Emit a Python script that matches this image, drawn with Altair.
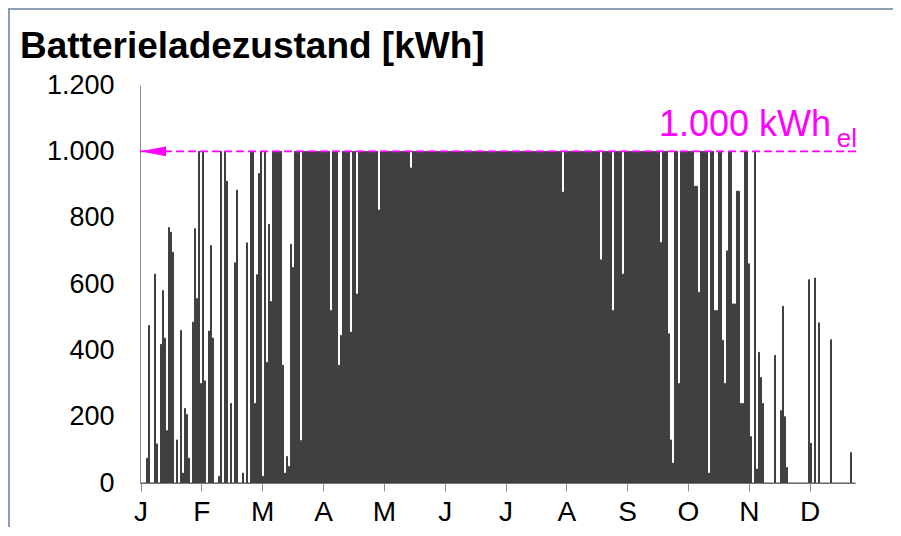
import altair as alt
import pandas as pd

FONT = "Liberation Sans"
FRAME = "#8c9fb2"
MAGENTA = "#ff00ff"
DARK = "#404040"

title_text = "Batterieladezustand [kWh]"
months = ["J", "F", "M", "A", "M", "J", "J", "A", "S", "O", "N", "D"]
y_ticks = [0, 200, 400, 600, 800, 1000, 1200]
capacity = 1000
cap_label = "1.000 kWh"
cap_sub = "el"

# daily peak state of charge [kWh] (one value per day)
jan = [0, 0, 0, 75, 475, 0, 0, 630, 118, 0, 418, 580, 437, 158, 770, 756, 696, 0, 130, 0,
       460, 30, 225, 207, 75, 0, 485, 767, 556, 1000, 300]
feb = [1000, 308, 0, 458, 716, 437, 0, 0, 20, 1000, 0, 1000, 910, 0, 240, 0, 664, 883, 0, 0,
       30, 0, 724, 0, 1000, 1000, 240, 628]
mar = [933, 1000, 20, 1000, 364, 780, 547, 1000, 1000, 1000, 1000, 1000, 355, 30, 80, 50,
       720, 650, 1000, 1000, 1000, 128, 1000, 1000, 1000, 1000, 1000, 1000, 1000, 1000, 1000]
apr = [1000, 1000, 1000, 1000, 1000, 520, 1000, 1000, 1000, 355, 445, 1000, 1000, 1000, 1000,
       455, 1000, 1000, 570, 1000, 1000, 1000, 1000, 1000, 1000, 1000, 1000, 1000, 1000, 823]
may = [1000, 1000, 1000, 1000, 1000, 1000, 1000, 1000, 1000, 1000, 1000, 1000, 1000, 1000, 1000,
       950, 1000, 1000, 1000, 1000, 1000, 1000, 1000, 1000, 1000, 1000, 1000, 1000, 1000, 1000, 1000]
jun = [1000, 1000, 1000, 1000, 1000, 1000, 1000, 1000, 1000, 1000, 1000, 1000, 1000, 1000, 1000,
       1000, 1000, 1000, 1000, 1000, 1000, 1000, 1000, 1000, 1000, 1000, 1000, 1000, 1000, 1000]
jul = [1000, 1000, 1000, 1000, 1000, 1000, 1000, 1000, 1000, 1000, 1000, 1000, 1000, 1000, 1000,
       1000, 1000, 1000, 1000, 1000, 1000, 1000, 1000, 1000, 1000, 1000, 1000, 1000, 1000, 1000, 877]
aug = [1000, 1000, 1000, 1000, 1000, 1000, 1000, 1000, 1000, 1000, 1000, 1000, 1000, 1000, 1000,
       1000, 1000, 1000, 673, 1000, 1000, 1000, 1000, 1000, 520, 1000, 1000, 1000, 1000, 630, 1000]
sep = [1000, 1000, 1000, 1000, 1000, 1000, 1000, 1000, 1000, 1000, 1000, 1000, 1000, 1000, 1000,
       1000, 1000, 725, 1000, 1000, 1000, 450, 130, 60, 1000, 1000, 300, 1000, 1000, 1000]
octo = [1000, 1000, 1000, 1000, 895, 895, 575, 1000, 1000, 1000, 1000, 30, 1000, 1000, 520, 520,
        1000, 1000, 430, 300, 700, 1000, 1000, 540, 540, 880, 880, 240, 240, 1000, 1000]
nov = [661, 140, 0, 1000, 42, 394, 318, 240, 0, 0, 0, 0, 0, 385, 0, 0, 218, 533, 200, 47,
       0, 0, 0, 0, 0, 0, 0, 0, 0, 0]
dec = [613, 120, 0, 618, 0, 483, 0, 0, 0, 0, 0, 432, 0, 0, 0, 0, 0, 0, 0, 0, 0, 92, 0, 0]

peaks = jan + feb + mar + apr + may + jun + jul + aug + sep + octo + nov + dec
month_len = 365 / 12
x_end = len(peaks) - 0.5

rows = []
for d, p in enumerate(peaks):
    rows.append({"t": d, "v": p})
    rows.append({"t": d + 0.5, "v": 0})
df = pd.DataFrame(rows)

W, H = 715, 398
PL, PT, PR, PB = 132, 77, 38, 44

# a quarter-day shift of the domain puts the daily steps on pixel centres (crisp strokes)
x_scale = alt.Scale(domain=[-0.25, x_end - 0.25], nice=False, zero=False)
y_scale = alt.Scale(domain=[0, 1200], nice=False)

month_expr = "[" + ",".join("'%s'" % m for m in months) + "][round(datum.value / %f)]" % month_len

x_axis = alt.Axis(values=[k * month_len for k in range(12)], labelExpr=month_expr, title=None,
                  grid=False, tickSize=8, tickColor="#8c8c8c", domainColor="#8c8c8c",
                  labelFontSize=28, labelFont=FONT, labelColor="black", labelPadding=7,
                  labelAngle=0, labelFlush=False, labelOverlap=False)
y_axis = alt.Axis(values=y_ticks, labelExpr="replace(format(datum.value, ','), ',', '.')",
                  title=None, grid=False, ticks=False, domainColor="#8c8c8c",
                  labelFontSize=27, labelFont=FONT, labelColor="black", labelPadding=26)

base = alt.Chart(df)
area = base.mark_area(interpolate="step-after", color=DARK).encode(
    x=alt.X("t:Q", scale=x_scale, axis=x_axis),
    y=alt.Y("v:Q", scale=y_scale, axis=y_axis),
)
line = base.mark_line(interpolate="step-after", color=DARK, strokeWidth=1).encode(
    x="t:Q", y="v:Q"
)

cap_df = pd.DataFrame({"x0": [-0.25], "x1": [x_end + 1.25], "v": [capacity],
                       "main": [cap_label], "sub": [cap_sub]})
cap_line = alt.Chart(cap_df).mark_rule(color=MAGENTA, strokeWidth=1.8, strokeDash=[8, 4]).encode(
    x="x0:Q", x2="x1:Q", y="v:Q"
)
arrow = alt.Chart(cap_df).mark_point(shape="M 0 0 L 2 -0.38 L 2 0.38 Z", filled=True, size=676,
                                      color=MAGENTA, opacity=1).encode(x="x0:Q", y="v:Q")
cap_text = alt.Chart(cap_df).mark_text(align="right", baseline="alphabetic", fontSize=36,
                                       font=FONT, color=MAGENTA, dy=-15).encode(
    x=alt.value(691), y="v:Q", text="main:N"
)
cap_subtext = alt.Chart(cap_df).mark_text(align="right", baseline="alphabetic", fontSize=26,
                                          font=FONT, color=MAGENTA, dy=-4).encode(
    x=alt.value(717), y="v:Q", text="sub:N"
)

title_df = pd.DataFrame({"label": [title_text]})
title = alt.Chart(title_df).mark_text(align="left", baseline="alphabetic", fontSize=37,
                                      fontWeight="bold", font=FONT, color="black").encode(
    x=alt.value(-120), y=alt.value(-27), text="label:N"
)

frame_df = pd.DataFrame({"a": [0]})
frame_top = alt.Chart(frame_df).mark_rule(color=FRAME, strokeWidth=2).encode(
    x=alt.value(-PL), x2=alt.value(W + PR), y=alt.value(-PT + 1)
)
frame_left = alt.Chart(frame_df).mark_rule(color=FRAME, strokeWidth=2).encode(
    x=alt.value(-PL + 1), y=alt.value(-PT), y2=alt.value(H + PB)
)

chart = alt.layer(area, line, cap_line, arrow, cap_text, cap_subtext, title, frame_top, frame_left).properties(
    width=W, height=H,
    autosize=alt.AutoSizeParams(type="none"),
    padding={"left": PL, "top": PT, "right": PR, "bottom": PB},
).configure_view(stroke=None)

chart.save("out.html", embed_options={"renderer": "svg", "actions": False})
